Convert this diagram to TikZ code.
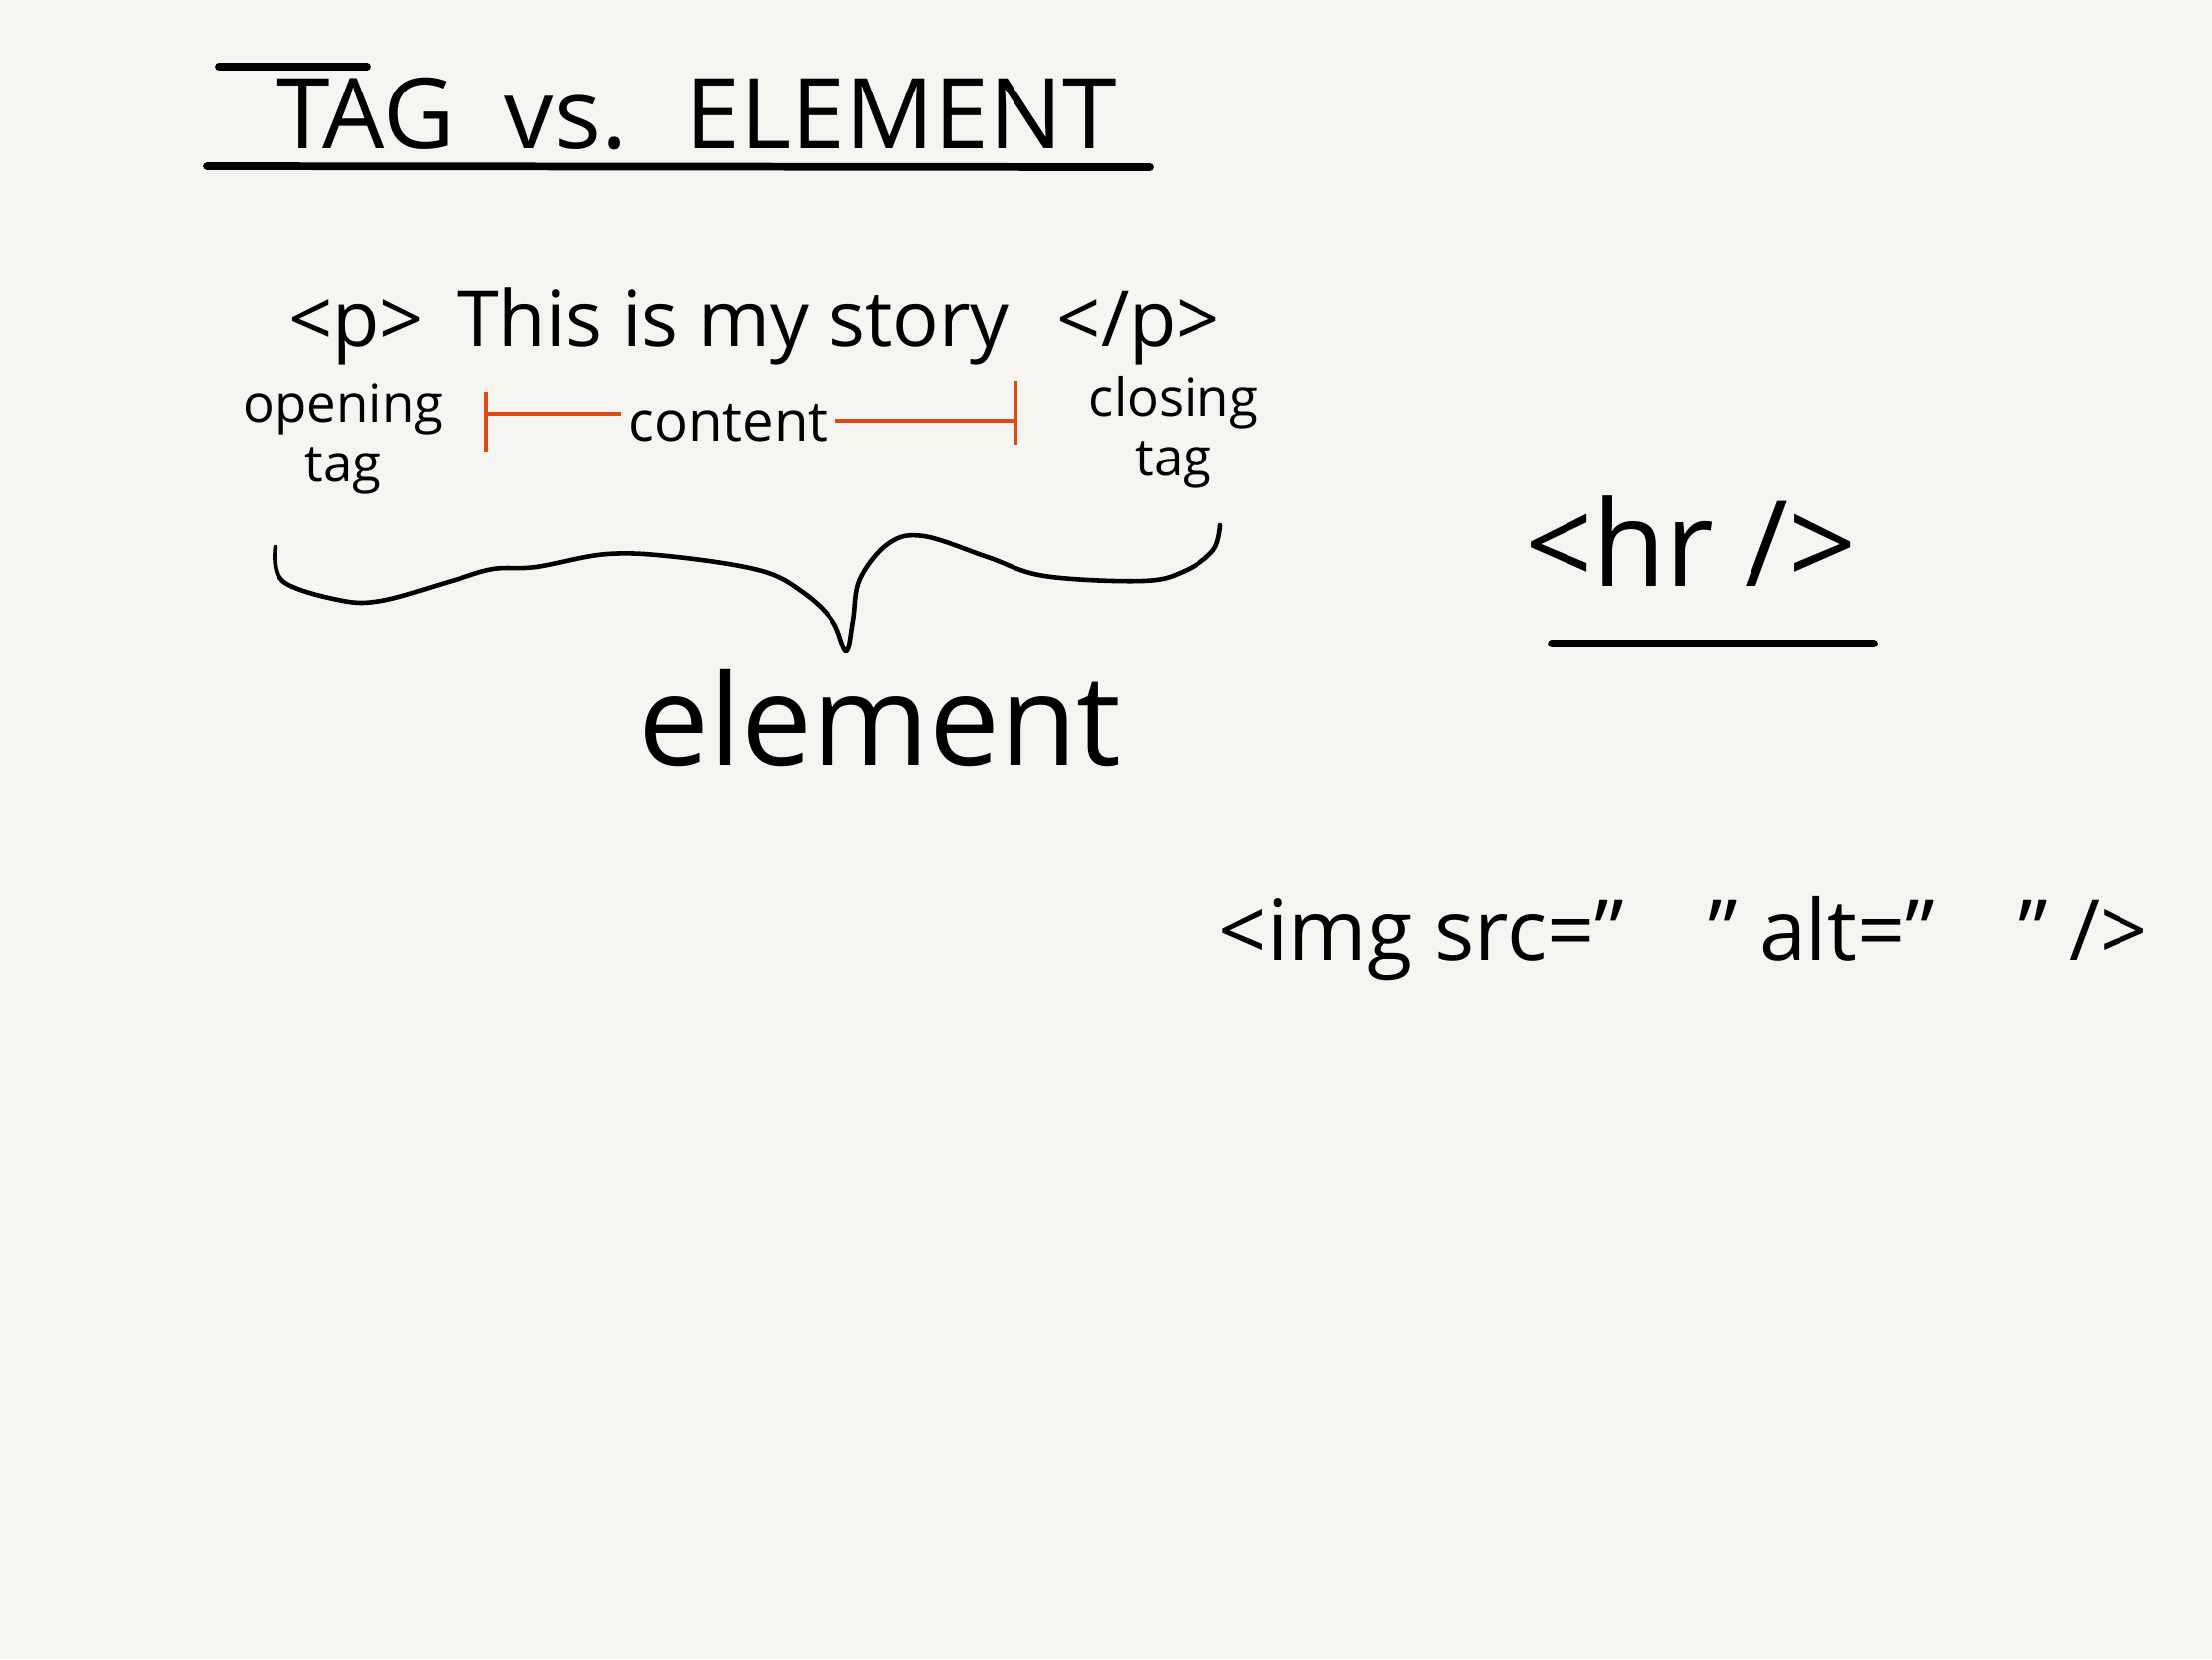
\documentclass[tikz,border=0pt]{standalone}
\usepackage{fontspec}
\setmainfont{Open Sans}
\usetikzlibrary{positioning}
\definecolor{paper}{HTML}{F5F4F0}
\definecolor{markred}{HTML}{DD4B12}

\begin{document}
\begin{tikzpicture}[x=0.01cm, y=-0.01cm,
    ink/.style={line width=1.3pt, line cap=round, line join=round},
    rule/.style={line width=2.2pt, line cap=round},
    txt/.style={inner sep=0pt, anchor=base},
    measure/.style={line width=1.3pt, draw=markred}
  ]
  \fill[paper] (0,0) rectangle (2224,1668);
  \useasboundingbox (0,0) rectangle (2224,1668);

  \node[txt, font=\fontsize{28}{34}\selectfont] (title) at (700,149)
    {TAG \ vs. \ ELEMENT};
  \draw[rule] (220,67) -- (369,67);
  \draw[rule] (208,167) -- (1156,168);

  \node[txt, font=\fontsize{22}{26}\selectfont] (popen) at (358,348) {<p>};
  \node[txt, font=\fontsize{22}{26}\selectfont] (story) at (737,348)
    {This is my story};
  \node[txt, font=\fontsize{22}{26}\selectfont] (pclose) at (1145,348) {</p>};

  \node[inner sep=0pt, anchor=north, align=center, font=\fontsize{15}{17}\selectfont]
    (openlbl) at (345,385) {opening\\tag};
  \node[inner sep=0pt, anchor=north, align=center, font=\fontsize{15}{17}\selectfont]
    (closelbl) at (1180,378) {closing\\tag};

  \node[inner sep=2pt, font=\fontsize{16}{19}\selectfont] (content) at (732,425)
    {content};
  \coordinate (cl) at (489,416);
  \coordinate (cr) at (1021,423);
  \draw[measure] (cl) -- (cl -| content.west);
  \draw[measure] (content.east |- cr) -- (cr);
  \draw[measure] (489,394) -- (489,454);
  \draw[measure] (1021,383) -- (1021,447);

  \draw[ink] plot[smooth, tension=0.6] coordinates {
    (277,550) (284,584) (340,603) (383,604) (454,584) (496,572) (539,570)
    (610,557) (681,560) (766,574) (808,596) (837,624) (851,655)
    (858,624) (865,582) (894,546) (929,539) (993,560) (1050,579)
    (1149,584) (1191,574) (1220,553) (1227,528)};

  \node[txt, font=\fontsize{36}{42}\selectfont] (element) at (885,769) {element};

  \node[txt, font=\fontsize{34}{40}\selectfont] (hr) at (1700,589) {<hr />};
  \draw[rule] (1560,647) -- (1884,647);

  \node[txt, font=\fontsize{24}{29}\selectfont] (img) at (1693,965)
    {<img src="\quad" alt="\quad" />};
\end{tikzpicture}
\end{document}
